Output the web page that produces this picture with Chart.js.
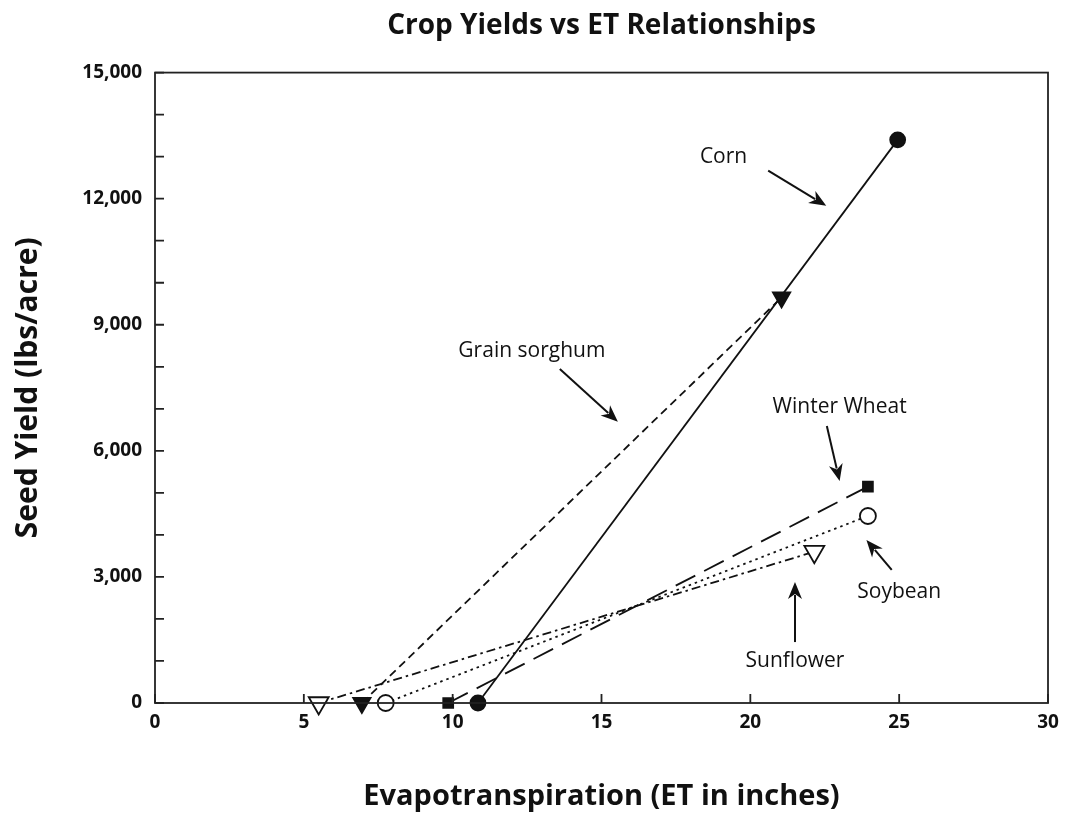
<!DOCTYPE html>
<html><head><meta charset="utf-8">
<script src="https://cdn.jsdelivr.net/npm/chart.js@4/dist/chart.umd.min.js"></script>
<style>html,body{margin:0;padding:0;background:#fff}#wrap{width:1072px;height:814px}</style>
</head><body><div id="wrap"><canvas id="c" width="1072" height="814"></canvas></div>
<script>
const cornX = [10.85, 24.95];
const cornY = [0, 13400];
const sorghumX = [6.95, 21.05];
const sorghumY = [0, 9650];
const wheatX = [9.85, 23.95];
const wheatY = [0, 5150];
const soyX = [7.75, 23.95];
const soyY = [0, 4450];
const sunX = [5.5, 22.15];
const sunY = [0, 3600];
const xTicks = [0, 5, 10, 15, 20, 25, 30];
const yLabelTicks = [0, 3000, 6000, 9000, 12000, 15000];
const annotations = [
  {text: 'Corn', x: 19.1, y: 13000, from: [20.6, 12670], to: [22.55, 11830]},
  {text: 'Grain sorghum', x: 12.66, y: 8380, from: [13.6, 7950], to: [15.55, 6690]},
  {text: 'Winter Wheat', x: 23.0, y: 7040, from: [22.57, 6590], to: [23.0, 5280]},
  {text: 'Soybean', x: 25.0, y: 2650, from: [24.75, 3170], to: [23.9, 3880]},
  {text: 'Sunflower', x: 21.5, y: 1000, from: [21.5, 1450], to: [21.5, 2880]}
];

const pts = (xs, ys) => xs.map((x, i) => ({x, y: ys[i]}));
const ink = '#111';
const FONT = '"Open Sans", sans-serif';

const frameAndTicks = {
  id: 'frameAndTicks',
  afterDraw(chart) {
    const {ctx, chartArea: a, scales} = chart;
    ctx.save();
    ctx.strokeStyle = '#222';
    ctx.lineWidth = 1.8;
    ctx.strokeRect(a.left, a.top, a.right - a.left, a.bottom - a.top);
    ctx.beginPath();
    scales.y.ticks.forEach(t => {
      const p = scales.y.getPixelForValue(t.value);
      ctx.moveTo(a.left, p); ctx.lineTo(a.left + 9, p);
    });
    xTicks.forEach(v => {
      const p = scales.x.getPixelForValue(v);
      ctx.moveTo(p, a.bottom); ctx.lineTo(p, a.bottom - 9);
    });
    ctx.stroke();
    ctx.restore();
  }
};

const notes = {
  id: 'notes',
  afterDatasetsDraw(chart) {
    const {ctx, scales: {x, y}} = chart;
    ctx.save();
    ctx.fillStyle = ink; ctx.strokeStyle = ink;
    ctx.font = '21px ' + FONT;
    ctx.textAlign = 'center'; ctx.textBaseline = 'middle';
    annotations.forEach(n => {
      ctx.fillText(n.text, x.getPixelForValue(n.x), y.getPixelForValue(n.y));
      const x1 = x.getPixelForValue(n.from[0]), y1 = y.getPixelForValue(n.from[1]);
      const x2 = x.getPixelForValue(n.to[0]), y2 = y.getPixelForValue(n.to[1]);
      const ang = Math.atan2(y2 - y1, x2 - x1);
      const hl = 17, hw = 7;
      const bx = x2 - hl * Math.cos(ang), by = y2 - hl * Math.sin(ang);
      ctx.lineWidth = 2;
      ctx.beginPath(); ctx.moveTo(x1, y1); ctx.lineTo(bx + 4 * Math.cos(ang), by + 4 * Math.sin(ang)); ctx.stroke();
      ctx.beginPath();
      ctx.moveTo(x2, y2);
      ctx.lineTo(bx - hw * Math.sin(ang), by + hw * Math.cos(ang));
      ctx.lineTo(bx + 5 * Math.cos(ang), by + 5 * Math.sin(ang));
      ctx.lineTo(bx + hw * Math.sin(ang), by - hw * Math.cos(ang));
      ctx.closePath(); ctx.fill();
    });
    ctx.restore();
  }
};

function ds(label, xs, ys, dash, style, radius, fill, rot) {
  return {
    label, data: pts(xs, ys), clip: false,
    borderColor: ink, borderWidth: 1.8, borderDash: dash,
    pointStyle: style, pointRadius: radius, pointHoverRadius: radius,
    pointRotation: rot || 0,
    pointBackgroundColor: fill, pointBorderColor: ink, pointBorderWidth: 1.8,
    showLine: true, fill: false, tension: 0
  };
}

new Chart(document.getElementById('c'), {
  type: 'scatter',
  data: {
    datasets: [
      ds('Corn', cornX, cornY, [], 'circle', 7.5, ink),
      ds('Grain sorghum', sorghumX, sorghumY, [8, 5], 'triangle', 10, ink, 180),
      ds('Winter Wheat', wheatX, wheatY, [22, 10], 'rect', 7, ink),
      ds('Soybean', soyX, soyY, [2.5, 4], 'circle', 8, '#fff'),
      ds('Sunflower', sunX, sunY, [9, 4, 2.5, 4], 'triangle', 11.5, '#fff', 180)
    ]
  },
  options: {
    responsive: false, animation: false, events: [],
    layout: {padding: {top: 0, right: 24, left: 0, bottom: 0}},
    plugins: {
      legend: {display: false}, tooltip: {enabled: false},
      title: {
        display: true, fullSize: false, text: 'Crop Yields vs ET Relationships', color: ink,
        font: {family: FONT, size: 28, weight: 'bold'},
        padding: {top: 9, bottom: 30}
      }
    },
    scales: {
      x: {
        type: 'linear', min: 0, max: 30,
        afterFit(s) { s.height = 111; },
        grid: {display: false, drawTicks: false},
        border: {display: false},
        afterBuildTicks(s) { s.ticks = xTicks.map(v => ({value: v})); },
        ticks: {
          color: ink, padding: 8, maxRotation: 0,
          font: {family: FONT, size: 19, weight: 'bold'},
          callback: v => String(v)
        },
        title: {
          display: true, text: 'Evapotranspiration (ET in inches)', color: ink,
          font: {family: FONT, size: 29, weight: 'bold'},
          padding: {top: 0, bottom: 0}
        }
      },
      y: {
        type: 'linear', min: 0, max: 15000,
        afterFit(s) { s.width = 155; },
        grid: {display: false, drawTicks: false},
        border: {display: false},
        ticks: {
          stepSize: 1000, color: ink, padding: 13,
          font: {family: FONT, size: 19, weight: 'bold'},
          callback: v => (yLabelTicks.includes(v) ? v.toLocaleString('en-US') : '')
        },
        title: {
          display: true, text: 'Seed Yield (lbs/acre)', color: ink,
          font: {family: FONT, size: 30, weight: 'bold'},
          padding: {top: 10, bottom: 0}
        }
      }
    }
  },
  plugins: [frameAndTicks, notes]
});
</script>
</body></html>
